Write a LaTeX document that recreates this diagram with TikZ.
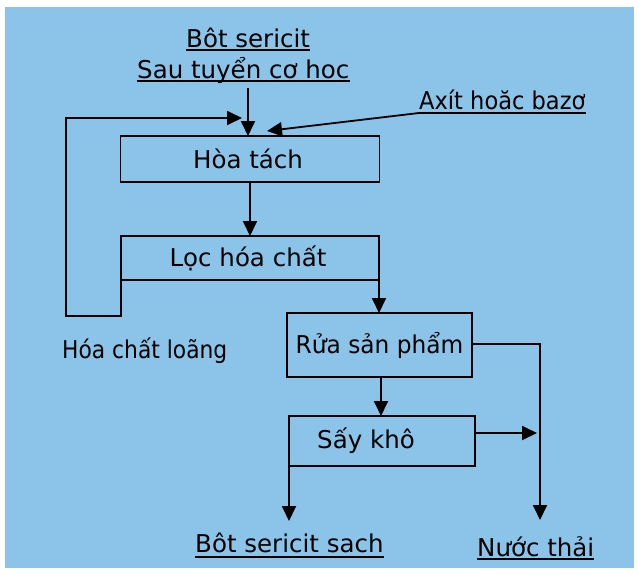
\documentclass[tikz,border=0pt]{standalone}
\usepackage{fontspec}
\setmainfont{DejaVu Sans}
\usetikzlibrary{arrows.meta}
\definecolor{bgblue}{RGB}{139,196,232}
\tikzset{
  lw/.style={line width=1.8pt},
  box/.style={draw, lw, rectangle, inner sep=0pt, outer sep=0pt, font=\fontsize{24.5}{28}\selectfont},
  txt/.style={inner sep=0pt, anchor=base west, font=\fontsize{24.5}{28}\selectfont},
  uline/.style={line width=1.6pt},
  arr/.style={lw, -{Triangle[length=15pt,width=14pt]}},
  wire/.style={lw}
}
\begin{document}
\begin{tikzpicture}[x=1pt,y=-1pt]
\useasboundingbox (0,0) rectangle (639,574);
\fill[white] (0,0) rectangle (639,574);
\fill[bgblue] (5,7) rectangle (634,568);

% text labels
\node[txt] (top1) at (186,47) {Bôt sericit};
\node[txt] (top2) at (137,78) {Sau tuyển cơ hoc};
\node[txt] (acid) at (419,109) {\scalebox{0.92}[1]{Axít hoăc bazơ}};
\node[txt] (dil) at (62,358) {\scalebox{0.89}[1]{Hóa chất loãng}};
\node[txt] (out1) at (195,552) {Bôt sericit sach};
\node[txt] (out2) at (477,556) {Nước thải};

\draw[uline] ([yshift=-3pt]top1.base west) -- ([yshift=-3pt]top1.base east);
\draw[uline] ([yshift=-3pt]top2.base west) -- ([yshift=-3pt]top2.base east);
\draw[uline] ([yshift=-4pt]acid.base west) -- ([yshift=-4pt]acid.base east);
\draw[uline] ([yshift=-5pt]out1.base west) -- ([yshift=-5pt]out1.base east);
\draw[uline] ([yshift=-3pt]out2.base west) -- ([yshift=-3pt]out2.base east);

% boxes
\node[box, minimum width=259pt, minimum height=46pt] (hoa) at (250,159) {\hspace*{-4pt}Hòa tách};
\node[box, minimum width=258pt, minimum height=44pt] (loc) at (250,258) {\hspace*{-4pt}Lọc hóa chất};
\node[box, minimum width=185pt, minimum height=64pt] (rua) at (379.5,345) {\raisebox{3pt}{\scalebox{0.95}[1]{Rửa sản phẩm}}};
\node[box, minimum width=186pt, minimum height=50pt] (say) at (382,441) {\hspace*{-32pt}\raisebox{3pt}{Sấy khô}};

% coordinates
\coordinate (feedA) at (121,316);
\coordinate (feedB) at (66,316);
\coordinate (feedC) at (66,118);
\coordinate (feedEnd) at (242,118);
\coordinate (inTop) at (248,88);
\coordinate (inEnd) at (248,136);
\coordinate (acidEnd) at (267,131);
\coordinate (wasteA) at (540,344);
\coordinate (wasteEnd) at (540,520);
\coordinate (sayOut) at (537,433);
\coordinate (prodEnd) at (289,521);

% connectors
\draw[arr] (inTop) -- (inEnd);
\draw[arr] ([yshift=-4pt]acid.base west) -- (acidEnd);
\draw[arr] (loc.south west) -- (feedA) -- (feedB) -- (feedC) -- (feedEnd);
\draw[arr] (hoa.south) -- (loc.north);
\draw[arr] (loc.south east) -- (loc.south east |- rua.north);
\draw[arr] ([xshift=1.5pt]rua.south) -- ([xshift=1.5pt]rua.south |- say.north);
\draw[arr] (rua.east |- wasteA) -- (wasteA) -- (wasteEnd);
\draw[arr] (say.east |- sayOut) -- (sayOut);
\draw[arr] (say.south west) -- (prodEnd);
\end{tikzpicture}
\end{document}
